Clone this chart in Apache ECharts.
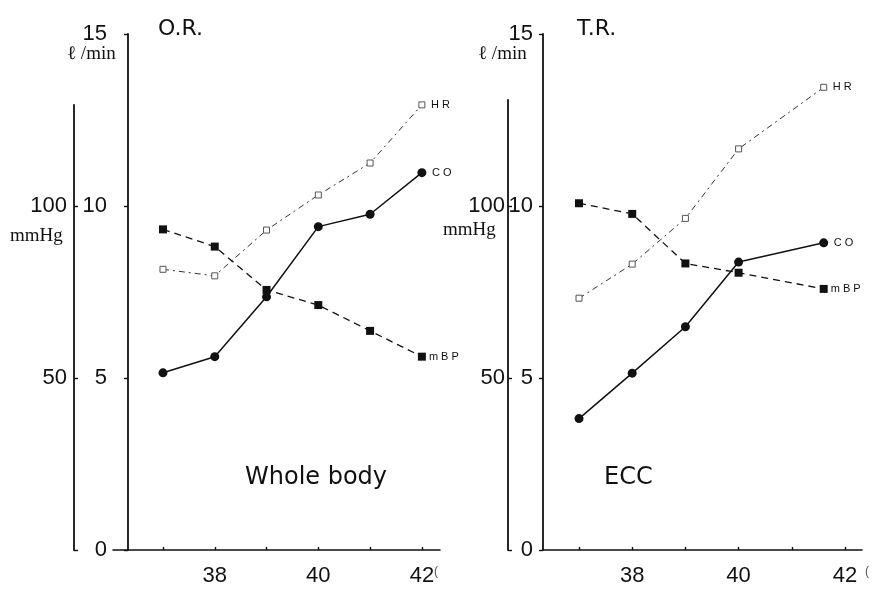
<!DOCTYPE html>
<html>
<head>
<meta charset="utf-8">
<script src="https://cdn.jsdelivr.net/npm/echarts@6/dist/echarts.min.js"></script>
<style>
html,body{margin:0;padding:0;background:#fff;}
#c{width:874px;height:591px;}
</style>
</head>
<body>
<div id="c"></div>
<script>
// ---- data ----
var tempsOR = [37, 38, 39, 40, 41, 42];
var coOR    = [5.15, 5.62, 7.36, 9.40, 9.76, 10.97];     // l/min
var mbpOR   = [93.2, 88.2, 75.6, 71.2, 63.7, 56.2];      // mmHg
var hrOR    = [81.6, 79.7, 93.0, 103.2, 112.5, 129.4];   // beats/min (mmHg scale)

var tempsTR = [37, 38, 39, 40, 41.6];
var coTR    = [3.82, 5.14, 6.49, 8.37, 8.93];
var mbpTR   = [100.8, 97.7, 83.3, 80.6, 75.9];
var hrTR    = [73.2, 83.1, 96.4, 116.6, 134.5];

var xTicks  = [37, 38, 39, 40, 41, 42];
var xLabels = [38, 40, 42];
var flowTicks = [0, 5, 10, 15];
var mmTicks = [0, 50, 100];
var mmLabels = [50, 100];

function pairs(xs, ys){ return xs.map(function(x,i){ return [x, ys[i]]; }); }

var INK = '#111';
var sans = 'Liberation Sans, Arial, sans-serif';
var serif = 'Liberation Serif, DejaVu Serif, serif';

function xAx(grid, min, max){
  return {
    type:'value', gridIndex:grid, min:min, max:max,
    axisLine:{show:true, onZero:false, lineStyle:{color:INK, width:1.6}},
    axisTick:{show:true, inside:true, length:3, customValues:xTicks, lineStyle:{color:INK, width:1.4}},
    axisLabel:{show:true, customValues:xLabels, color:INK, fontSize:22, fontFamily:sans, margin:15},
    splitLine:{show:false}
  };
}
function innerY(grid, offset, margin){
  return {
    type:'value', gridIndex:grid, min:0, max:15, position:'left', offset:offset,
    axisLine:{show:true, onZero:false, lineStyle:{color:INK, width:1.8}},
    axisTick:{show:true, length:4, customValues:flowTicks, lineStyle:{color:INK, width:1.4}},
    axisLabel:{show:true, customValues:flowTicks, color:INK, fontSize:22, fontFamily:sans, margin:margin},
    splitLine:{show:false}
  };
}
function hiddenY(grid){
  return {type:'value', gridIndex:grid, min:0, max:150, show:false, splitLine:{show:false}};
}
function outerY(grid, max, margin){
  return {
    type:'value', gridIndex:grid, min:0, max:max, position:'left',
    axisLine:{show:true, onZero:false, lineStyle:{color:INK, width:1.8}},
    axisTick:{show:true, inside:true, length:4, customValues:mmTicks, lineStyle:{color:INK, width:1.4}},
    axisLabel:{show:true, customValues:mmLabels, color:INK, fontSize:22, fontFamily:sans, margin:margin},
    splitLine:{show:false}
  };
}
function hiddenX(grid){
  return {type:'value', gridIndex:grid, min:0, max:1, show:false};
}

function coSeries(xi, yi, data){
  return {
    type:'line', xAxisIndex:xi, yAxisIndex:yi, data:data,
    symbol:'circle', symbolSize:9, showAllSymbol:true,
    lineStyle:{color:INK, width:1.5, type:'solid'},
    itemStyle:{color:INK},
    endLabel:{show:true, formatter:'C O', color:INK, fontSize:11, fontFamily:sans, distance:10},
    animation:false, z:5
  };
}
function mbpSeries(xi, yi, data){
  return {
    type:'line', xAxisIndex:xi, yAxisIndex:yi, data:data,
    symbol:'rect', symbolSize:8, showAllSymbol:true,
    lineStyle:{color:INK, width:1.3, type:[7,5]},
    itemStyle:{color:INK},
    endLabel:{show:true, formatter:'m B P', color:INK, fontSize:11, fontFamily:sans, distance:7},
    animation:false, z:4
  };
}
function hrSeries(xi, yi, data){
  return {
    type:'line', xAxisIndex:xi, yAxisIndex:yi, data:data,
    symbol:'rect', symbolSize:6, showAllSymbol:true,
    lineStyle:{color:'#333', width:1.0, type:[6,4,2,4]},
    itemStyle:{color:'#fff', borderColor:'#555', borderWidth:1},
    endLabel:{show:true, formatter:'H R', color:INK, fontSize:11, fontFamily:sans, distance:9},
    animation:false, z:3
  };
}

var chart = echarts.init(document.getElementById('c'), null, {renderer:'canvas'});
chart.setOption({
  backgroundColor:'#fff',
  animation:false,
  grid:[
    {left:113, right:434, top:34, bottom:41},
    {left:543, right:12, top:34, bottom:41},
    {left:74, width:10, top:105, bottom:41},
    {left:508, width:10, top:100, bottom:41}
  ],
  xAxis:[
    xAx(0, 36.035, 42.35),
    xAx(1, 36.323, 42.32),
    hiddenX(2),
    hiddenX(3)
  ],
  yAxis:[
    innerY(0, -15, 21),
    hiddenY(0),
    innerY(1, 0, 10),
    hiddenY(1),
    outerY(2, 129.4, 7),
    outerY(3, 130.8, 3)
  ],
  series:[
    hrSeries(0, 1, pairs(tempsOR, hrOR)),
    mbpSeries(0, 1, pairs(tempsOR, mbpOR)),
    coSeries(0, 0, pairs(tempsOR, coOR)),
    hrSeries(1, 3, pairs(tempsTR, hrTR)),
    mbpSeries(1, 3, pairs(tempsTR, mbpTR)),
    coSeries(1, 2, pairs(tempsTR, coTR))
  ],
  graphic:[
    {type:'text', left:158, top:18, style:{text:'O.R.', font:'22px DejaVu Sans, sans-serif', fill:INK}},
    {type:'text', left:577, top:18, style:{text:'T.R.', font:'22px DejaVu Sans, sans-serif', fill:INK}},
    {type:'text', left:67, top:45, style:{text:'\u2113 /min', font:'19px ' + serif, fill:INK}},
    {type:'text', left:478, top:45, style:{text:'\u2113 /min', font:'19px ' + serif, fill:INK}},
    {type:'text', left:10, top:227, style:{text:'mmHg', font:'19px ' + serif, fill:INK}},
    {type:'text', left:443, top:221, style:{text:'mmHg', font:'19px ' + serif, fill:INK}},
    {type:'text', left:245, top:466, style:{text:'Whole body', font:'24px DejaVu Sans, sans-serif', fill:INK}},
    {type:'text', left:604, top:466, style:{text:'ECC', font:'24px DejaVu Sans, sans-serif', fill:INK}},
    {type:'text', left:434, top:566, style:{text:'(', font:'12px ' + sans, fill:'#555'}},
    {type:'text', left:865, top:566, style:{text:'(', font:'12px ' + sans, fill:'#555'}}
  ]
});
</script>
</body>
</html>
